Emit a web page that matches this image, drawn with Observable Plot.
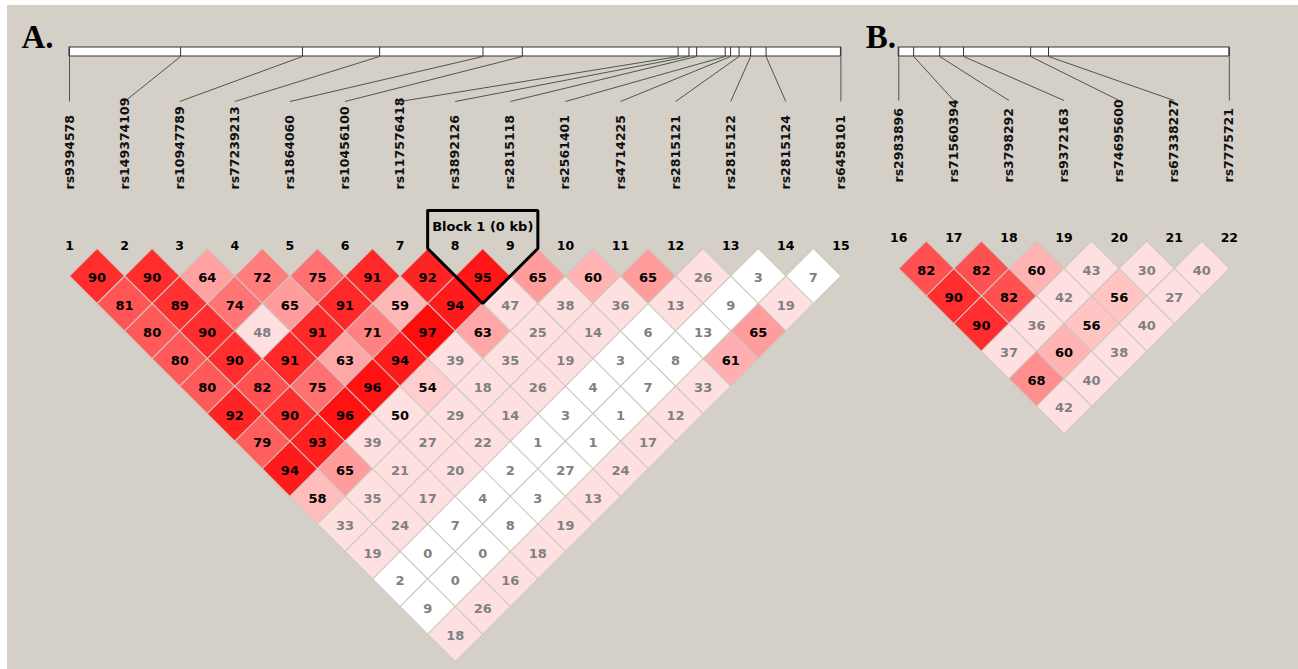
<!DOCTYPE html>
<html><head><meta charset="utf-8">
<script src="https://cdn.jsdelivr.net/npm/d3@7"></script>
<script src="https://cdn.jsdelivr.net/npm/@observablehq/plot@0.6"></script>
<style>
html,body{margin:0;padding:0;background:#fff;overflow:hidden}
#wrap{position:relative;width:1298px;height:669px;
 background:linear-gradient(#fff,#fff) 0 0/100% 5px no-repeat, linear-gradient(#fff,#fff) 0 0/7px 100% no-repeat, #d4d0c8;}
#wrap svg{background:transparent}
</style></head><body><div id="wrap"></div>
<script>
// ---------- data ----------
const markersA = ["rs9394578","rs149374109","rs10947789","rs77239213","rs1864060","rs10456100","rs117576418","rs3892126","rs2815118","rs2561401","rs4714225","rs2815121","rs2815122","rs2815124","rs6458101"];
const markersB = ["rs2983896","rs71560394","rs3798292","rs9372163","rs74695600","rs67338227","rs7775721"];
// relative physical positions along the map bar (0 = first marker, 1000 = last marker)
const mapPosA = [0,144,302,402,536,587,789,803,813,850,857,868,883,903,1000];
const mapPosB = [0,45,124,196,399,453,1000];
// pairwise LD values (x100), one list per marker distance (1, 2, 3, ...)
const ldA = [
 [90,90,64,72,75,91,92,95,65,60,65,26,3,7],
 [81,89,74,65,91,59,94,47,38,36,13,9,19],
 [80,90,48,91,71,97,63,25,14,6,13,65],
 [80,90,91,63,94,39,35,19,3,8,61],
 [80,82,75,96,54,18,26,4,7,33],
 [92,90,96,50,29,14,3,1,12],
 [79,93,39,27,22,1,1,17],
 [94,65,21,20,2,27,24],
 [58,35,17,4,3,13],
 [33,24,7,8,19],
 [19,0,0,18],
 [2,0,16],
 [9,26],
 [18]
];
const ldB = [
 [82,82,60,43,30,40],
 [90,82,42,56,27],
 [90,36,56,40],
 [37,60,38],
 [68,40],
 [42]
];
// marker pairs with LOD < 2 (drawn white)
const lowLod = [[1,13],[2,13],[3,13],[4,13],[5,13],[6,13],[7,13],[8,13],[9,13],[10,13],
 [1,14],[2,14],[3,14],[4,14],[5,14],[6,14],[7,14],[8,14],[9,14],[10,14],[11,14],[12,14],[13,14],[14,15]];
const blocks = [{label:"Block 1 (0 kb)", first:8, last:9}];
const panelTitles = ["A.","B."];

// ---------- layout ----------
const W = 1298, H = 669, U = 55.1;         // px per marker step
const panels = [
 {title:panelTitles[0], names:markersA, map:mapPosA, ld:ldA, start:1, p0:0, dy:0, rsBottom:189, lineEnd:101, titleDx:-48},
 {title:panelTitles[1], names:markersB, map:mapPosB, ld:ldB, start:16, p0:15.05, dy:-7.5, rsBottom:182, lineEnd:100, titleDx:-33}
];
const px = v => v / U;
const lowSet = new Set(lowLod.map(([a,b]) => a + "-" + b));
function cellColor(v, low) {
  if (low) return "#ffffff";
  if (v < 50) return "rgb(255,224,224)";
  const g = Math.round(448 * (1 - v / 100));
  return `rgb(255,${g},${g})`;
}
const markers = [], cells = [], mapTicks = [], bars = [], titles = [];
for (const P of panels) {
  const n = P.names.length;
  const pos = k => P.p0 + (k - P.start);
  const rowY = d => px(275.5 + P.dy + (d - 1) * U / 2);
  P.pos = pos; P.rowY = rowY;
  const first = pos(P.start), last = pos(P.start + n - 1);
  bars.push({x1:first, x2:last});
  titles.push({x:first + px(P.titleDx), text:P.title});
  P.names.forEach((name, i) => {
    const num = P.start + i;
    const bx = first + (last - first) * P.map[i] / 1000;
    mapTicks.push({x:bx});
    markers.push({num, name, x:pos(num), bx, rsY:px(P.rsBottom), lineY:px(P.lineEnd), numY:px(245 + P.dy)});
  });
  P.ld.forEach((row, di) => {
    const d = di + 1;
    row.forEach((v, i) => {
      const a = P.start + i, b = a + d;
      const low = lowSet.has(a + "-" + b);
      cells.push({a, b, v, x:(pos(a) + pos(b)) / 2, y:rowY(d), fill:cellColor(v, low), ink:(!low && v >= 50) ? "#000" : "#808080"});
    });
  });
}
// block outline
const PA = panels[0];
const blockLines = [], blockLabels = [];
blocks.forEach((B, bi) => {
  const pl = (PA.pos(B.first - 1) + PA.pos(B.first)) / 2;
  const pr = (PA.pos(B.last) + PA.pos(B.last + 1)) / 2;
  const pm = (PA.pos(B.first) + PA.pos(B.last)) / 2;
  const top = px(210), yc0 = PA.rowY(0), ybot = PA.rowY(B.last - B.first + 1);
  [[pl,top],[pr,top],[pr,yc0],[pm,ybot],[pl,yc0],[pl,top]].forEach(([x,y]) => blockLines.push({x,y,z:bi}));
  blockLabels.push({x:(pl + pr) / 2, y:px(226), text:B.label});
});

const font = "DejaVu Sans, Verdana, sans-serif";
const chart = Plot.plot({
  width: W, height: H, margin: 0,
  style: {background: "transparent"},
  x: {type:"linear", domain:[-69 / U, (W - 69) / U], range:[0, W], axis:null},
  y: {type:"linear", domain:[0, H / U], range:[0, H], axis:null},
  color: {type:"identity"},
  marks: [
    // map bars
    Plot.rect(bars, {x1:"x1", x2:"x2", y1:px(47), y2:px(56), fill:"white", stroke:"#333", strokeWidth:1}),
    Plot.ruleX(mapTicks, {x:"x", y1:px(47), y2:px(56), stroke:"#333", strokeWidth:1}),
    Plot.link(markers, {x1:"bx", y1:px(56), x2:"x", y2:"lineY", stroke:"#444", strokeWidth:0.9}),
    // marker names
    Plot.text(markers, {x:"x", y:"rsY", text:"name", rotate:-90, textAnchor:"start", lineAnchor:"middle",
      fontSize:12.5, fontWeight:"bold", fontFamily:font, fill:"#111"}),
    // marker numbers
    Plot.text(markers, {x:"x", y:"numY", text:d => String(d.num), fontSize:12.5, fontWeight:"bold", fontFamily:font, fill:"#000"}),
    // LD diamonds
    Plot.dot(cells, {x:"x", y:"y", symbol:"square", rotate:45, r:(U / Math.SQRT2) / Math.sqrt(Math.PI),
      fill:"fill", stroke:"#cdc9c1", strokeWidth:1}),
    Plot.text(cells, {x:"x", y:"y", dy:2, text:d => String(d.v), fill:"ink", fontSize:13, fontWeight:"bold", fontFamily:font}),
    // haplotype block
    Plot.line(blockLines, {x:"x", y:"y", z:"z", stroke:"#000", strokeWidth:3, strokeLinejoin:"miter", curve:"linear"}),
    Plot.text(blockLabels, {x:"x", y:"y", text:"text", fontSize:13, fontWeight:"bold", fontFamily:font, fill:"#000"}),
    // panel titles
    Plot.text(titles, {x:"x", y:px(47 - 0.32 * 33), text:"text", textAnchor:"start", lineAnchor:"middle",
      fontSize:33, fontWeight:"bold", fontFamily:"Liberation Serif, Times New Roman, serif", fill:"#000"})
  ]
});
document.getElementById("wrap").appendChild(chart);
</script></body></html>
